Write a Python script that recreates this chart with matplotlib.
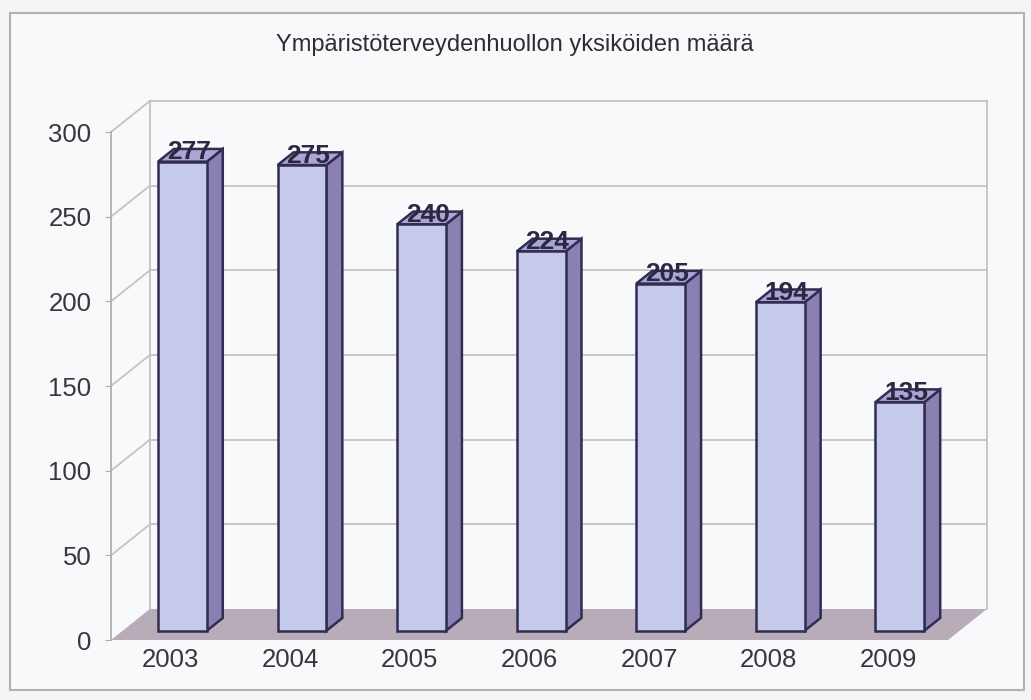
import matplotlib.pyplot as plt
from matplotlib.patches import Polygon, Rectangle

# data
years = ['2003', '2004', '2005', '2006', '2007', '2008', '2009']
values = [277, 275, 240, 224, 205, 194, 135]
yticks = [0, 50, 100, 150, 200, 250, 300]
title = 'Ympäristöterveydenhuollon yksiköiden määrä'

plt.rcParams['font.family'] = ['Liberation Sans', 'DejaVu Sans']

# 3D-vaikutelman syvyys (x kategorioina, y arvoyksiköinä)
DX, DY = 0.325, 18.3
f0, f1 = 0.30, 0.71      # pylvään etu- ja takareuna syvyyssuunnassa
half = 0.204             # puolet pylvään leveydestä

front_col = '#c5caea'
side_col = '#8a80b2'
top_col = '#aaa5d4'
edge_col = '#302c52'
floor_col = '#b7acb8'
grid_col = '#c4c2c4'

fig = plt.figure(figsize=(10.31, 7.0), dpi=100)
fig.patch.set_facecolor('#f3f4f6')
fig.patches.append(Rectangle((10 / 1031, 10 / 700), 1014 / 1031, 677 / 700,
                             transform=fig.transFigure, facecolor='#f8f9fb',
                             edgecolor='#b2b2b4', linewidth=1.5, zorder=-5))

ax = fig.add_axes([111 / 1031, 60 / 700, 837 / 1031, 508 / 700])
ax.set_facecolor('none')
ax.set_xlim(-0.5, len(years) - 0.5)
ax.set_ylim(0, 300)

x0, x1 = -0.5, len(years) - 0.5

# lattia
floor = Polygon([(x0, 0), (x1, 0), (x1 + DX, DY), (x0 + DX, DY)], closed=True,
                facecolor=floor_col, edgecolor='none', clip_on=False, zorder=1)
ax.add_patch(floor)

# apuviivat takaseinässä ja vasemmassa seinässä
for t in yticks[1:]:
    ax.plot([x0 + DX, x1 + DX], [t + DY, t + DY], color=grid_col, lw=1.3,
            clip_on=False, zorder=0.5)
    ax.plot([x0, x0 + DX], [t, t + DY], color=grid_col, lw=1.3,
            clip_on=False, zorder=0.5)
ax.plot([x0 + DX, x0 + DX], [DY, 300 + DY], color=grid_col, lw=1.3, clip_on=False, zorder=0.5)
ax.plot([x1 + DX, x1 + DX], [DY, 300 + DY], color=grid_col, lw=1.3, clip_on=False, zorder=0.5)

# pylväät
for i, v in enumerate(values):
    xl = i - half + DX * f0
    xr = i + half + DX * f0
    yb = DY * f0
    yt = v + DY * f0
    ddx = DX * (f1 - f0)
    ddy = DY * (f1 - f0)
    front = Polygon([(xl, yb), (xr, yb), (xr, yt), (xl, yt)], closed=True,
                    facecolor=front_col, edgecolor=edge_col, lw=1.8,
                    clip_on=False, zorder=3)
    side = Polygon([(xr, yb), (xr + ddx, yb + ddy), (xr + ddx, yt + ddy), (xr, yt)],
                   closed=True, facecolor=side_col, edgecolor=edge_col, lw=1.8,
                   clip_on=False, zorder=3)
    top = Polygon([(xl, yt), (xr, yt), (xr + ddx, yt + ddy), (xl + ddx, yt + ddy)],
                  closed=True, facecolor=top_col, edgecolor=edge_col, lw=1.8,
                  clip_on=False, zorder=3)
    ax.add_patch(side)
    ax.add_patch(top)
    ax.add_patch(front)
    ax.text(i + 0.15, v + 11, str(v), ha='center', va='center', fontsize=19,
            fontweight='bold', color='#2a2842', zorder=5)

# akselit
for s in ['top', 'right', 'bottom']:
    ax.spines[s].set_visible(False)
ax.spines['left'].set_color('#b0b0b0')
ax.spines['left'].set_linewidth(1.3)
ax.set_yticks(yticks)
ax.set_xticks(range(len(years)), years)
ax.tick_params(axis='y', length=4, color='#b0b0b0', pad=10, labelsize=18.5,
               labelcolor='#38383c')
ax.tick_params(axis='x', length=0, pad=6, labelsize=18.5, labelcolor='#38383c')

fig.text(0.4995, 1 - 45 / 700, title, ha='center', va='center', fontsize=17,
         color='#2e2e32')

fig.savefig('out.png', dpi=100, facecolor=fig.get_facecolor())
